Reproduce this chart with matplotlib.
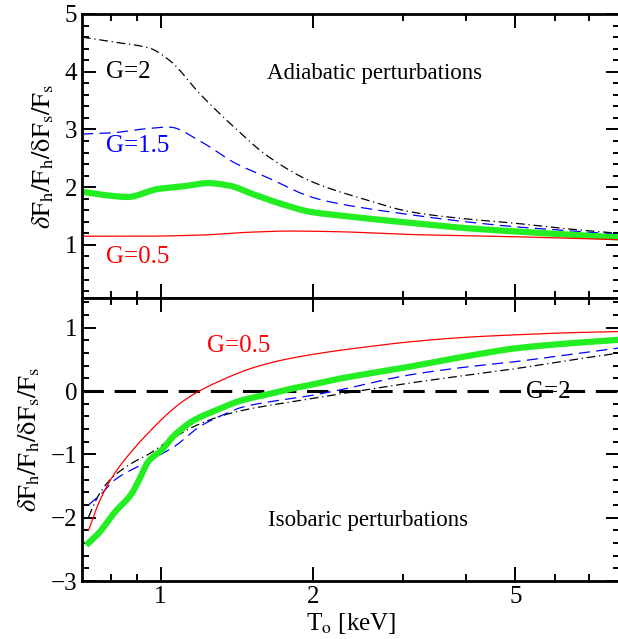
import numpy as np
import matplotlib
matplotlib.use("Agg")
from matplotlib import pyplot as plt
from matplotlib.ticker import FixedLocator, NullFormatter, MultipleLocator

plt.rcParams['font.family'] = ['Liberation Serif', 'DejaVu Serif']
plt.rcParams['mathtext.fontset'] = 'stix'

# Données (T0 en keV)
# --- panneau du haut : perturbations adiabatiques
T_g2_ad = [0.70, 0.80, 0.95, 1.04, 1.20, 1.38, 1.63, 1.98, 2.5, 3.12, 4.0, 5.06, 6.3, 8.0]
g2_ad = [4.60, 4.52, 4.41, 4.20, 3.60, 3.08, 2.53, 2.10, 1.80, 1.57, 1.45, 1.37, 1.28, 1.20]

T_g15_ad = [0.70, 0.80, 0.93, 1.04, 1.20, 1.40, 1.63, 1.98, 2.2, 3.12, 4.0, 5.06, 6.3, 8.0]
g15_ad = [2.92, 2.94, 3.01, 3.04, 2.79, 2.42, 2.16, 1.83, 1.73, 1.52, 1.40, 1.31, 1.25, 1.18]

T_g1_ad = [0.70, 0.78, 0.86, 0.99, 1.10, 1.24, 1.36, 1.53, 1.73, 1.98, 2.2, 3.12, 4.0, 5.06, 6.3, 8.0]
g1_ad = [1.92, 1.86, 1.83, 1.97, 2.01, 2.07, 2.03, 1.87, 1.71, 1.57, 1.52, 1.38, 1.29, 1.23, 1.18, 1.13]

T_g05_ad = [0.70, 0.90, 1.2, 1.5, 1.8, 2.2, 3.12, 5.06, 8.0]
g05_ad = [1.15, 1.15, 1.17, 1.22, 1.24, 1.23, 1.18, 1.14, 1.09]

# --- panneau du bas : perturbations isobares
T_g05_is = [0.721, 0.754, 0.789, 0.825, 0.877, 0.946, 1.035, 1.116, 1.204, 1.30, 1.51, 1.76, 2.07, 2.5, 3.12, 4.0, 5.06, 6.3, 8.0]
g05_is = [-2.20, -1.78, -1.46, -1.22, -0.95, -0.66, -0.35, -0.14, 0.02, 0.15, 0.36, 0.50, 0.60, 0.69, 0.78, 0.85, 0.89, 0.92, 0.94]

T_g1_is = [0.721, 0.754, 0.813, 0.877, 0.91, 0.946, 1.005, 1.067, 1.17, 1.28, 1.44, 1.63, 1.79, 1.98, 2.2, 3.12, 4.0, 5.06, 6.3, 8.0]
g1_is = [-2.40, -2.25, -1.91, -1.62, -1.38, -1.11, -0.93, -0.69, -0.45, -0.31, -0.15, -0.05, 0.03, 0.10, 0.18, 0.39, 0.55, 0.68, 0.75, 0.81]

T_g15_is = [0.721, 0.765, 0.813, 0.946, 1.067, 1.20, 1.36, 1.44, 1.98, 2.2, 3.12, 4.0, 5.06, 6.3, 8.0]
g15_is = [-1.80, -1.62, -1.40, -1.11, -0.87, -0.55, -0.34, -0.26, -0.07, 0.0, 0.26, 0.38, 0.47, 0.57, 0.68]

T_g2_is = [0.721, 0.754, 0.80, 0.877, 0.946, 1.035, 1.17, 1.32, 1.44, 1.98, 2.2, 3.12, 4.0, 5.06, 6.3, 8.0]
g2_is = [-1.99, -1.65, -1.38, -1.14, -1.00, -0.79, -0.55, -0.39, -0.31, -0.12, -0.06, 0.13, 0.25, 0.36, 0.48, 0.60]

xticks_major = [1, 2, 5]
xticks_minor = [0.8, 0.9, 3, 4, 6, 7]


def smooth(T, y, n=300):
    # interpolation monotone (Fritsch-Carlson) en log T
    x = np.log10(np.array(T, dtype=float))
    y = np.array(y, dtype=float)
    h = np.diff(x)
    d = np.diff(y) / h
    m = np.zeros_like(y)
    m[0], m[-1] = d[0], d[-1]
    for k in range(1, len(y) - 1):
        if d[k - 1] * d[k] <= 0:
            m[k] = 0.0
        else:
            w1 = 2 * h[k] + h[k - 1]
            w2 = h[k] + 2 * h[k - 1]
            m[k] = (w1 + w2) / (w1 / d[k - 1] + w2 / d[k])
    xs = np.linspace(x[0], x[-1], n)
    idx = np.clip(np.searchsorted(x, xs) - 1, 0, len(x) - 2)
    t = (xs - x[idx]) / h[idx]
    h00 = 2 * t ** 3 - 3 * t ** 2 + 1
    h10 = t ** 3 - 2 * t ** 2 + t
    h01 = -2 * t ** 3 + 3 * t ** 2
    h11 = t ** 3 - t ** 2
    ys = h00 * y[idx] + h10 * h[idx] * m[idx] + h01 * y[idx + 1] + h11 * h[idx] * m[idx + 1]
    return 10 ** xs, ys


fig = plt.figure(figsize=(6.18, 6.39), dpi=100)
ax1 = fig.add_axes([82 / 618, 341 / 639, 538 / 618, 284 / 639])
ax2 = fig.add_axes([82 / 618, 58 / 639, 538 / 618, 283 / 639])

dashdot = (0, (7, 3, 1, 3))
dashed = (0, (9, 5))

ax1.plot(*smooth(T_g2_ad, g2_ad), color='black', lw=0.9, ls=dashdot)
ax1.plot(*smooth(T_g15_ad, g15_ad), color='blue', lw=0.9, ls=dashed)
ax1.plot(*smooth(T_g1_ad, g1_ad), color='#22ee22', lw=4.5)
ax1.plot(*smooth(T_g05_ad, g05_ad), color='red', lw=0.9)

ax2.axhline(0, color='black', lw=2.2, ls=(0, (7, 3.5)))
ax2.plot(*smooth(T_g2_is, g2_is), color='black', lw=0.9, ls=dashdot)
ax2.plot(*smooth(T_g15_is, g15_is), color='blue', lw=0.9, ls=dashed)
ax2.plot(*smooth(T_g1_is, g1_is), color='#22ee22', lw=4.5)
ax2.plot(*smooth(T_g05_is, g05_is), color='red', lw=0.9)

ax1.set_ylim(0.08, 5)
ax2.set_ylim(-3, 1.47)
ax1.yaxis.set_major_locator(FixedLocator([1, 2, 3, 4, 5]))
ax1.yaxis.set_minor_locator(MultipleLocator(0.2))
ax2.yaxis.set_major_locator(FixedLocator([-3, -2, -1, 0, 1]))
ax2.yaxis.set_minor_locator(MultipleLocator(0.2))

for ax in (ax1, ax2):
    ax.set_xscale('log')
    ax.set_xlim(0.7, 8.04)
    ax.xaxis.set_major_locator(FixedLocator(xticks_major))
    ax.xaxis.set_minor_locator(FixedLocator(xticks_minor))
    ax.xaxis.set_minor_formatter(NullFormatter())
    ax.tick_params(which='both', direction='in', top=True, right=True, labelsize=18, width=1.4)
    ax.tick_params(which='major', length=10)
    ax.tick_params(which='minor', length=5)
    for s in ax.spines.values():
        s.set_linewidth(2)
    ax.set_ylabel(r'$\delta\mathrm{F_h/F_h/\delta F_s/F_s}$', fontsize=19, labelpad=6)

ax1.xaxis.set_major_formatter(NullFormatter())
ax2.set_xticklabels(['1', '2', '5'])
ax2.yaxis.set_major_formatter(plt.FuncFormatter(lambda v, p: f'{int(v)}'.replace('-', '\u2212')))
ax2.set_xlabel(r'T$_\mathrm{o}$ [keV]', fontsize=18, labelpad=2)

ax1.text(0.344, 0.79, 'Adiabatic perturbations', transform=ax1.transAxes, fontsize=16.5, va='center')
ax1.text(0.044, 0.795, 'G=2', transform=ax1.transAxes, fontsize=18, color='black', va='center')
ax1.text(0.044, 0.535, 'G=1.5', transform=ax1.transAxes, fontsize=18, color='blue', va='center')
ax1.text(0.044, 0.145, 'G=0.5', transform=ax1.transAxes, fontsize=18, color='red', va='center')

ax2.text(0.232, 0.83, 'G=0.5', transform=ax2.transAxes, fontsize=18, color='red', va='center')
ax2.text(0.826, 0.667, 'G=2', transform=ax2.transAxes, fontsize=18, color='black', va='center')
ax2.text(0.345, 0.215, 'Isobaric perturbations', transform=ax2.transAxes, fontsize=16.5, va='center')

fig.savefig('out.png', dpi=100)
